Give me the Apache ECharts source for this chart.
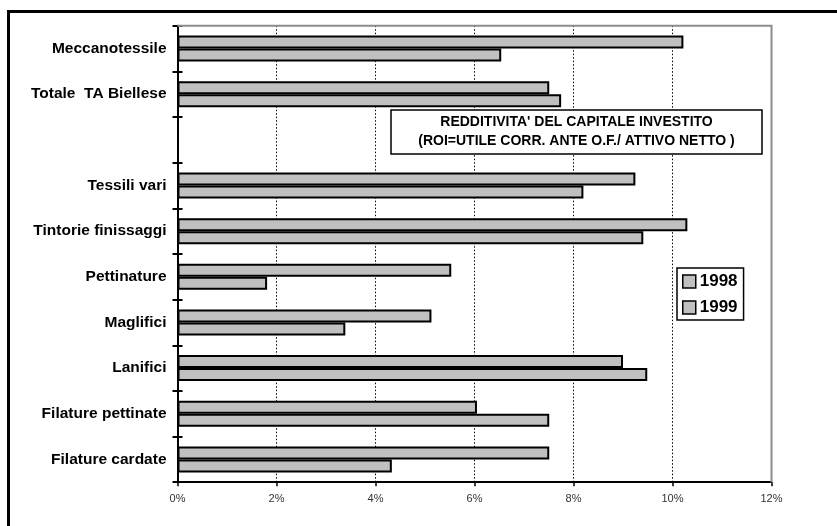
<!DOCTYPE html>
<html>
<head>
<meta charset="utf-8">
<script src="https://cdn.jsdelivr.net/npm/echarts@6/dist/echarts.min.js"></script>
<style>
  html, body { margin: 0; padding: 0; background: #fff; }
  #chart { width: 837px; height: 526px; }
</style>
</head>
<body>
<div id="chart"></div>
<script>
// Sectors, listed bottom to top as they appear on the category axis
const categories = [
  'Filature cardate', 'Filature pettinate', 'Lanifici', 'Maglifici',
  'Pettinature', 'Tintorie finissaggi', 'Tessili vari', '',
  'Totale  TA Biellese', 'Meccanotessile'
];
// ROI in percent
const roi1998 = [7.51, 6.05, 9.00, 5.13, 5.53, 10.30, 9.25, null, 7.51, 10.22];
const roi1999 = [4.33, 7.51, 9.49, 3.39, 1.81, 9.41, 8.20, null, 7.75, 6.54];
const seriesNames = ['1998', '1999'];
const xTicks = { min: 0, max: 12, interval: 2 };
const titleLines = [
  "REDDITIVITA' DEL CAPITALE INVESTITO",
  '(ROI=UTILE CORR. ANTE O.F./ ATTIVO NETTO )'
];

const FONT = '"Liberation Sans", Arial, sans-serif';
const GRID = { left: 177.5, top: 25.7, width: 594, height: 456.5 };
const barFill = '#c0c0c0';

const chart = echarts.init(document.getElementById('chart'), null, { renderer: 'canvas' });

const barSeries = (name, data) => ({
  name,
  type: 'bar',
  data,
  barWidth: 13,
  barGap: '0%',
  itemStyle: { color: barFill, borderColor: '#000', borderWidth: 2 },
  emphasis: { disabled: true },
  z: 3
});

const option = {
  animation: false,
  backgroundColor: '#fff',
  textStyle: { fontFamily: FONT },
  grid: Object.assign({ show: false, containLabel: false }, GRID),
  xAxis: {
    type: 'value',
    min: xTicks.min, max: xTicks.max, interval: xTicks.interval,
    axisLine: { show: true, lineStyle: { color: '#000', width: 2 } },
    axisTick: { show: true, length: 4, lineStyle: { color: '#000', width: 1.5 } },
    axisLabel: {
      formatter: '{value}%', fontSize: 11, color: '#333', margin: 11,
      fontFamily: FONT
    },
    splitLine: { show: true, lineStyle: { color: '#000', type: [1.5, 2], width: 1 } }
  },
  yAxis: [
    {
      type: 'category',
      data: categories,
      axisLine: { show: true, lineStyle: { color: '#000', width: 2 } },
      axisTick: { show: true, length: 5, lineStyle: { color: '#000', width: 2 } },
      axisLabel: {
        fontSize: 15.5, fontWeight: 'bold', color: '#000', margin: 11,
        fontFamily: FONT
      },
      splitLine: { show: false }
    },
    {
      // inner half of the crossing category ticks
      type: 'category',
      data: categories,
      position: 'left',
      axisLine: { show: false },
      axisTick: { show: true, inside: true, length: 5, lineStyle: { color: '#000', width: 2 } },
      axisLabel: { show: false },
      splitLine: { show: false }
    }
  ],
  legend: {
    orient: 'vertical',
    left: 677, top: 268,
    padding: [5, 6, 4, 5],
    itemGap: 9,
    itemWidth: 13, itemHeight: 13,
    icon: 'rect',
    borderColor: '#000', borderWidth: 1.5,
    backgroundColor: '#fff',
    selectedMode: false,
    itemStyle: { color: barFill, borderColor: '#000', borderWidth: 1.5 },
    textStyle: { fontSize: 17, fontWeight: 'bold', color: '#000', fontFamily: FONT, padding: [0, 0, 0, -1] },
    data: seriesNames
  },
  graphic: [
    // outer chart frame
    { type: 'rect', shape: { x: 8.5, y: 11.5, width: 900, height: 600 },
      style: { fill: 'none', stroke: '#000', lineWidth: 3 }, z: 200, silent: true },
    // plot area border (top and right)
    { type: 'polyline',
      shape: { points: [[GRID.left, GRID.top], [GRID.left + GRID.width, GRID.top], [GRID.left + GRID.width, GRID.top + GRID.height]] },
      style: { fill: 'none', stroke: '#8c8c8c', lineWidth: 2 }, z: 50, silent: true },
    // title box
    { type: 'rect', shape: { x: 391, y: 110, width: 371, height: 44 },
      style: { fill: '#fff', stroke: '#000', lineWidth: 1.5 }, z: 60, silent: true },
    { type: 'text', x: 576.5, y: 122, z: 61, silent: true,
      style: { text: titleLines[0], align: 'center', verticalAlign: 'middle',
        font: 'bold 14px ' + FONT, fill: '#000' } },
    { type: 'text', x: 576.5, y: 141, z: 61, silent: true,
      style: { text: titleLines[1], align: 'center', verticalAlign: 'middle',
        font: 'bold 14px ' + FONT, fill: '#000' } }
  ],
  series: [
    barSeries(seriesNames[0], roi1998),
    barSeries(seriesNames[1], roi1999)
  ]
};

chart.setOption(option);
</script>
</body>
</html>
